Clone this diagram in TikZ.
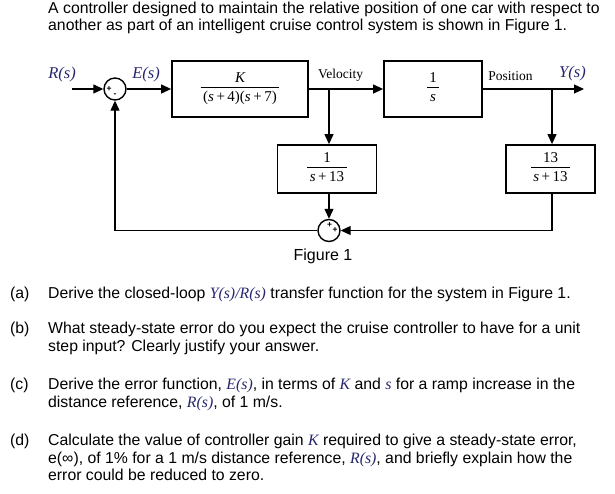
\documentclass[tikz,border=0pt]{standalone}
\usepackage{fontspec}
\setmainfont{Liberation Sans}
\newfontfamily\tms{Liberation Serif}
\usetikzlibrary{arrows.meta}
\definecolor{lblue}{RGB}{38,38,110}
\newcommand{\vv}[1]{{\tms\itshape\color{lblue}#1}}
\newcommand{\fr}[2]{\setlength{\arrayrulewidth}{0.8pt}\begin{tabular}{@{\,}c@{\,}}#1\\[-1pt]\hline\rule{0pt}{14pt}#2\end{tabular}}
\tikzset{
  blk/.style={draw, line width=1.8pt, inner sep=0pt, font=\tms\fontsize{15}{17}\selectfont},
  sumc/.style={draw, circle, line width=1.4pt, minimum size=22pt, inner sep=0pt},
  sgn/.style={inner sep=0pt, font=\bfseries\fontsize{8.5}{8.5}\selectfont},
  arr/.style={line width=1.2pt, -{Triangle[length=10pt,width=9pt]}},
  sig/.style={font=\tms\itshape\fontsize{16.5}{18}\selectfont, text=lblue, inner sep=0pt},
  sml/.style={font=\tms\fontsize{13.5}{15}\selectfont, inner sep=0pt},
  txt/.style={anchor=base west, inner sep=0pt, font=\fontsize{15.8}{18}\selectfont},
}
\begin{document}
\begin{tikzpicture}[x=1pt,y={(0pt,-1pt)}]
\useasboundingbox (0,0) rectangle (615,494);
% text above
\node[txt] (t1) at (48,13.5) {A controller designed to maintain the relative position of one car with respect to};
\node[txt] (t2) at (48,31) {another as part of an intelligent cruise control system is shown in Figure 1.};
% diagram
\coordinate (in) at (72,89);
\node[sumc] (s1) at (115,89) {};
\node[blk, minimum width=136pt, minimum height=56pt] (bK) at (240,89) {\fr{\itshape K}{(\textit{s}\,+\,4)(\textit{s}\,+\,7)}};
\coordinate (vb) at (329,89);
\node[blk, minimum width=98pt, minimum height=56pt] (b1s) at (433,89) {\fr{1}{\itshape s}};
\coordinate (pb) at (552,89);
\coordinate (out) at (584,89);
\node[blk, minimum width=99pt, minimum height=48pt] (bA) at (327,169) {\fr{1}{\textit{s}\,+\,13}};
\node[blk, minimum width=89pt, minimum height=48pt] (bB) at (550.5,169) {\fr{13}{\textit{s}\,+\,13}};
\node[sumc] (s2) at (329,230.5) {};
% labels
\node[sig] (lR) at (62,75) {R(s)};
\node[sig] (lE) at (146,75) {E(s)};
\node[sig] (lY) at (572.5,74) {Y(s)};
\node[sml] (lV) at (340.5,75) {Velocity};
\node[sml] (lP) at (510.5,76.5) {Position};
\node[inner sep=0pt, font=\fontsize{16}{18}\selectfont] (fig) at (323,256) {Figure 1};
% connectors
\draw[arr] (in) -- (s1.west);
\draw[arr] (s1.east) -- (bK.west);
\draw[arr] (bK.east) -- (b1s.west);
\draw[arr] (b1s.east) -- (out);
\draw[arr] (vb) -- (vb |- bA.north);
\draw[arr] (pb) -- (pb |- bB.north);
\draw[arr] (vb |- bA.south) -- (s2.north);
\draw[arr] (pb |- bB.south) |- (s2.east);
\draw[arr] (s2.west) -| (s1.south);
% signs
\node[sgn] (s1p) at ([xshift=-6pt,yshift=0pt]s1.center) {+};
\node[sgn] (s1m) at ([xshift=0pt,yshift=-6pt]s1.center) {-};
\node[sgn] (s2a) at ([xshift=0.5pt,yshift=5.5pt]s2.center) {+};
\node[sgn] (s2b) at ([xshift=6pt,yshift=0pt]s2.center) {+};
% questions
\node[txt] (qa) at (10,298) {(a)};
\node[txt] (ta) at (48,298) {Derive the closed-loop \vv{Y(s)/R(s)} transfer function for the system in Figure 1.};
\node[txt] (qb) at (10,333.5) {(b)};
\node[txt] (tb1) at (48,333.5) {What steady-state error do you expect the cruise controller to have for a unit};
\node[txt] (tb2) at (48,351) {step input? Clearly justify your answer.};
\node[txt] (qc) at (10,389.5) {(c)};
\node[txt] (tc1) at (48,389.5) {Derive the error function, \vv{E(s)}, in terms of \vv{K} and \vv{s} for a ramp increase in the};
\node[txt] (tc2) at (48,407) {distance reference, \vv{R(s)}, of 1 m/s.};
\node[txt] (qd) at (10,445.5) {(d)};
\node[txt] (td1) at (48,445.5) {Calculate the value of controller gain \vv{K} required to give a steady-state error,};
\node[txt] (td2) at (48,463) {e(∞), of 1\% for a 1 m/s distance reference, \vv{R(s)}, and briefly explain how the};
\node[txt] (td3) at (48,480.5) {error could be reduced to zero.};
\end{tikzpicture}
\end{document}
